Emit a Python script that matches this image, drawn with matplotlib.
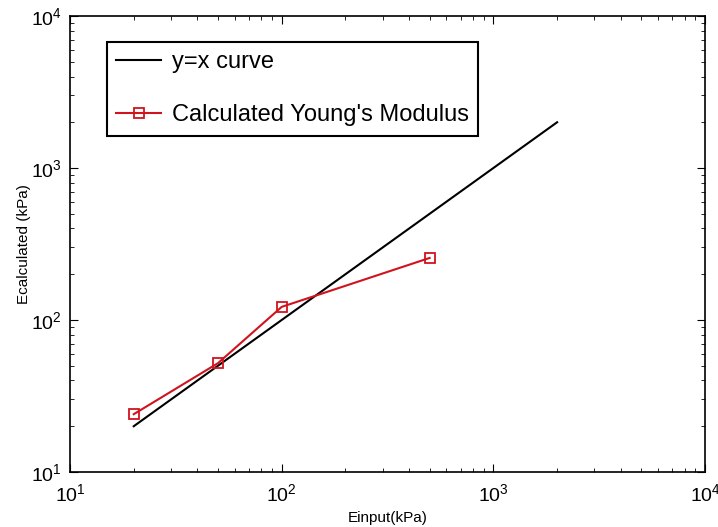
import matplotlib
matplotlib.use("Agg")
import matplotlib.pyplot as plt

plt.rcParams['font.family'] = ['Liberation Sans', 'DejaVu Sans']
plt.rcParams['mathtext.fontset'] = 'custom'
plt.rcParams['mathtext.rm'] = 'Liberation Sans'
plt.rcParams['mathtext.it'] = 'Liberation Sans'

# y = x reference line
ref_x = [20, 2000]
ref_y = [20, 2000]

# calculated Young's modulus
e_input = [20, 50, 100, 500]
e_calc = [24, 52, 122, 256]

fig = plt.figure(figsize=(7.18, 5.27), dpi=100)
ax = fig.add_axes([0.0975, 0.1044, 0.8845, 0.8652])

ax.plot(ref_x, ref_y, color='black', lw=1.5, label='y=x curve')
ax.plot(e_input, e_calc, color='#d0141e', lw=1.5, marker='s', ms=7,
        mfc='none', mec='#d0141e', mew=1.3, label="Calculated Young's Modulus")

ax.set_xscale('log')
ax.set_yscale('log')
ax.set_xlim(10, 1e4)
ax.set_ylim(10, 1e4)
ax.tick_params(which='both', direction='in', top=True, right=True, labelsize=14)
ax.tick_params(axis='x', which='major', pad=8)
ax.tick_params(axis='y', which='major', pad=6)
ax.tick_params(which='major', length=6)
ax.tick_params(which='minor', length=3)
for s in ax.spines.values():
    s.set_linewidth(1.2)

ax.set_xlabel('Einput(kPa)', fontsize=11, labelpad=4)
ax.set_ylabel('Ecalculated (kPa)', fontsize=11, labelpad=0)

leg = ax.legend(loc='upper left', bbox_to_anchor=(0.058, 0.943), borderaxespad=0,
                fontsize=17, labelspacing=1.3, handlelength=1.9, handletextpad=0.45,
                borderpad=0.4, fancybox=False, edgecolor='black', framealpha=1)
leg.get_frame().set_linewidth(1.5)

fig.savefig('out.png', dpi=100)
